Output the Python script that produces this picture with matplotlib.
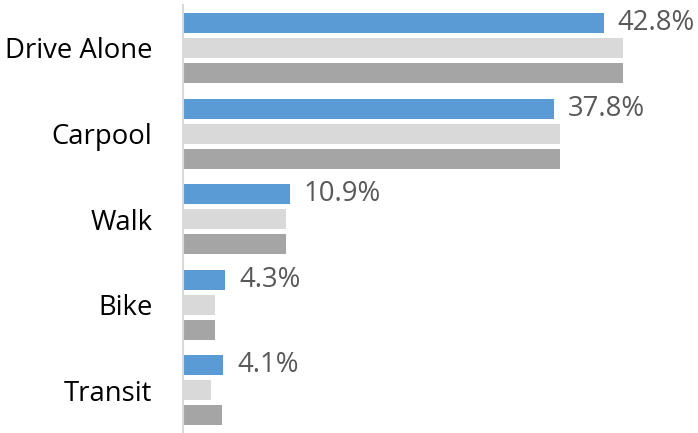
import matplotlib
matplotlib.use("Agg")
from matplotlib import pyplot as plt
import numpy as np

categories = ["Drive Alone", "Carpool", "Walk", "Bike", "Transit"]
series_a = [42.8, 37.8, 10.9, 4.3, 4.1]   # blue, labelled
series_b = [44.8, 38.4, 10.5, 3.3, 2.85]  # light grey
series_c = [44.8, 38.4, 10.5, 3.3, 4.0]   # dark grey
labels_a = ["42.8%", "37.8%", "10.9%", "4.3%", "4.1%"]

colors = ["#5B9BD5", "#D9D9D9", "#A5A5A5"]

plt.rcParams['font.family'] = ['Open Sans', 'DejaVu Sans']

fig = plt.figure(figsize=(6.98, 4.33), dpi=100)
ax = fig.add_axes([0.262, 0.0, 0.738, 0.988])

y = np.arange(len(categories))
h = 0.234
step = 0.292
ax.barh(y - step, series_a, height=h, color=colors[0])
ax.barh(y, series_b, height=h, color=colors[1])
ax.barh(y + step, series_c, height=h, color=colors[2])

for yi, v, lab in zip(y, series_a, labels_a):
    ax.text(v + 1.4, yi - step, lab, va="center", ha="left",
            fontsize=19.8, color="#595959")

ax.set_xlim(0, 52.4)
ax.set_ylim(4.5, -0.5)
ax.set_yticks(y)
ax.set_yticklabels(categories, fontsize=19.8, color="black")
ax.tick_params(axis="y", length=0, pad=22)
ax.set_xticks([])
for s in ["top", "right", "bottom"]:
    ax.spines[s].set_visible(False)
ax.spines["left"].set_color("#D9D9D9")
ax.spines["left"].set_linewidth(1.5)

fig.savefig("out.png", dpi=100)
